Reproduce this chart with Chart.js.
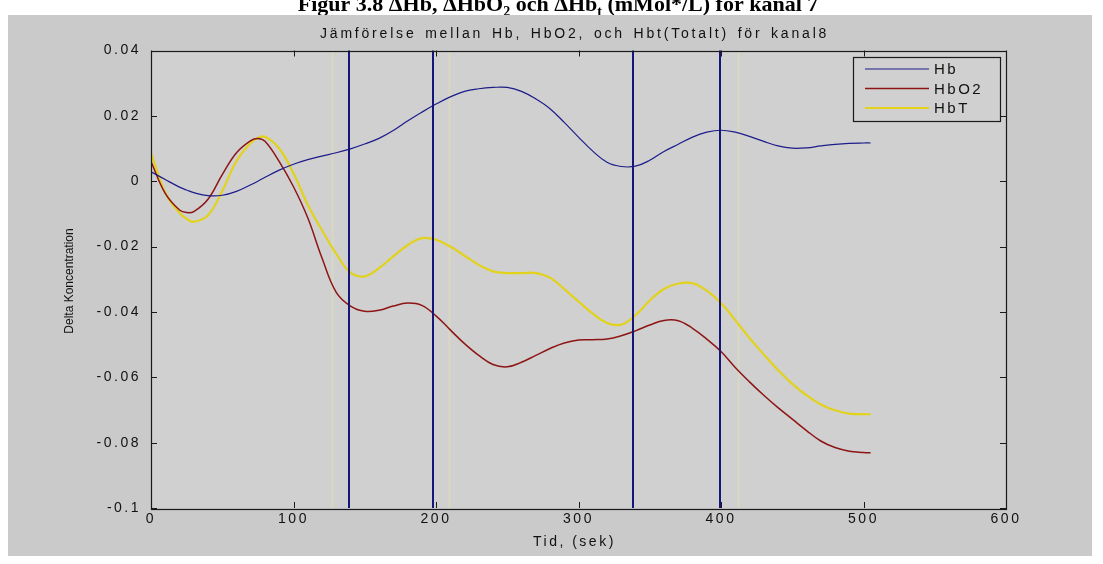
<!DOCTYPE html>
<html>
<head>
<meta charset="utf-8">
<script src="https://cdn.jsdelivr.net/npm/chart.js@4.4.1/dist/chart.umd.min.js"></script>
<style>
  html, body { margin: 0; padding: 0; background: #ffffff; }
  canvas { display: block; }
</style>
</head>
<body>
<canvas id="chart" width="1103" height="564"></canvas>
<script>
// Time axis (seconds)
const timeSec = [0,10,20,25,30,40,50,60,70,75,80,90,100,110,120,130,140,150,160,170,180,190,200,
  210,220,230,240,250,260,270,280,290,300,310,320,330,340,350,360,370,380,390,400,
  410,420,430,440,450,460,470,480,490,500,505];

// Delta concentration per series
const hb = [0.0029,0.0005,-0.0018,-0.0027,-0.0035,-0.0044,-0.0043,-0.0031,-0.0011,0.0000,0.0012,0.0034,0.0052,
  0.0066,0.0077,0.0087,0.0099,0.0114,0.0131,0.0155,0.0184,0.0211,0.0236,
  0.0258,0.0275,0.0283,0.0287,0.0287,0.0275,0.0252,0.0222,0.0180,0.0135,
  0.0092,0.0058,0.0045,0.0046,0.0064,0.0091,0.0113,0.0135,0.0150,0.0156,
  0.0150,0.0137,0.0122,0.0108,0.0101,0.0102,0.0108,0.0113,0.0116,0.0117,0.0117];

const hbo2 = [0.0060,-0.0037,-0.0088,-0.0096,-0.0093,-0.0055,0.0020,0.0087,0.0124,0.0131,0.0122,0.0060,-0.0017,
  -0.0112,-0.0235,-0.0340,-0.0382,-0.0398,-0.0395,-0.0382,-0.0373,-0.0380,-0.0412,
  -0.0455,-0.0497,-0.0533,-0.0561,-0.0568,-0.0554,-0.0533,-0.0512,-0.0495,-0.0486,
  -0.0485,-0.0483,-0.0473,-0.0458,-0.0440,-0.0426,-0.0427,-0.0450,-0.0483,-0.0521,
  -0.0570,-0.0614,-0.0655,-0.0693,-0.0728,-0.0763,-0.0795,-0.0815,-0.0826,-0.0830,-0.0831];

const hbt = [0.0086,-0.0035,-0.0097,-0.0115,-0.0124,-0.0104,-0.0030,0.0062,0.0118,0.0132,0.0136,0.0100,0.0024,
  -0.0072,-0.0150,-0.0222,-0.0280,-0.0291,-0.0266,-0.0230,-0.0196,-0.0174,-0.0179,
  -0.0200,-0.0228,-0.0256,-0.0276,-0.0281,-0.0281,-0.0281,-0.0295,-0.0330,-0.0368,
  -0.0405,-0.0434,-0.0439,-0.0410,-0.0365,-0.0330,-0.0313,-0.0312,-0.0335,-0.0373,
  -0.0425,-0.0480,-0.0530,-0.0578,-0.0620,-0.0655,-0.0683,-0.0701,-0.0711,-0.0713,-0.0713];

// Event markers (seconds) and faint guide lines
const markerTimes = [139, 198, 338, 399];
const faintTimes = [127, 209, 412];

// Axis ticks
const xTicks = [0, 100, 200, 300, 400, 500, 600];
const xTickLabels = ['0', '100', '200', '300', '400', '500', '600'];
const yTicks = [0.04, 0.02, 0, -0.02, -0.04, -0.06, -0.08, -0.1];
const yTickLabels = ['0.04', '0.02', '0', '-0.02', '-0.04', '-0.06', '-0.08', '-0.1'];

const seriesNames = ['Hb', 'HbO2', 'HbT'];
const seriesColors = ['#1c1c8a', '#8e1515', '#e2d21c'];
const seriesWidths = [1.2, 1.5, 2.2];

const titleText = 'Jämförelse mellan Hb, HbO2, och Hbt(Totalt) för kanal8';
const xTitle = 'Tid, (sek)';
const yTitle = 'Delta Koncentration';

const SANS = '"Liberation Sans", Arial, Helvetica, sans-serif';
const SERIF = '"Liberation Serif", "Times New Roman", serif';
const FIG_BG = '#cacaca';
const AX_BG = '#d0d0d0';

function toPoints(values) {
  return timeSec.map((t, i) => ({ x: t, y: values[i] }));
}

function drawCaption(ctx) {
  // Figure caption above the figure window
  const parts = [
    { t: 'Figur 3.8 \u0394Hb, \u0394HbO', sub: false },
    { t: '2', sub: true },
    { t: ' och \u0394Hb', sub: false },
    { t: 't', sub: true },
    { t: ' (mMol*/L) för kanal 7', sub: false }
  ];
  const big = 'bold 22px ' + SERIF;
  const small = 'bold 14px ' + SERIF;
  let total = 0;
  parts.forEach(p => { ctx.font = p.sub ? small : big; p.w = ctx.measureText(p.t).width; total += p.w; });
  let x = 558 - total / 2;
  ctx.fillStyle = '#000';
  ctx.textAlign = 'left';
  ctx.textBaseline = 'alphabetic';
  parts.forEach(p => {
    ctx.font = p.sub ? small : big;
    ctx.fillText(p.t, x, p.sub ? 16 : 11);
    x += p.w;
  });
}

const figurePlugin = {
  id: 'figureFrame',
  beforeDraw(chart) {
    const ctx = chart.ctx;
    const a = chart.chartArea;
    const xs = chart.scales.x;
    ctx.save();
    ctx.letterSpacing = '0px';
    ctx.fillStyle = '#ffffff';
    ctx.fillRect(0, 0, chart.width, chart.height);
    drawCaption(ctx);
    ctx.fillStyle = FIG_BG;
    ctx.fillRect(8, 15, 1084, 541);
    ctx.fillStyle = AX_BG;
    ctx.fillRect(a.left, a.top, a.right - a.left, a.bottom - a.top);
    // faint guide lines
    ctx.strokeStyle = 'rgba(236, 230, 170, 0.35)';
    ctx.lineWidth = 2;
    faintTimes.forEach(t => {
      const px = Math.round(xs.getPixelForValue(t)) + 0.5;
      ctx.beginPath(); ctx.moveTo(px, a.top); ctx.lineTo(px, a.bottom); ctx.stroke();
    });
    ctx.restore();
    // spaced lettering for tick labels
    ctx.letterSpacing = '2.5px';
  },
  afterDatasetsDraw(chart) {
    const ctx = chart.ctx;
    const a = chart.chartArea;
    const xs = chart.scales.x;
    const ys = chart.scales.y;
    ctx.save();
    ctx.letterSpacing = '0px';

    // event marker lines
    ctx.strokeStyle = '#15157a';
    ctx.lineWidth = 2;
    markerTimes.forEach(t => {
      const px = Math.round(xs.getPixelForValue(t));
      ctx.beginPath(); ctx.moveTo(px, a.top); ctx.lineTo(px, a.bottom); ctx.stroke();
    });

    // axes box
    ctx.strokeStyle = '#1a1a1a';
    ctx.lineWidth = 1.2;
    ctx.strokeRect(Math.round(a.left) + 0.5, Math.round(a.top) + 0.5,
      Math.round(a.right - a.left), Math.round(a.bottom - a.top));

    // inward tick marks on all four sides
    const tl = 6;
    ctx.lineWidth = 1;
    ctx.beginPath();
    xTicks.forEach(v => {
      const px = Math.round(xs.getPixelForValue(v)) + 0.5;
      ctx.moveTo(px, a.bottom); ctx.lineTo(px, a.bottom - tl);
      ctx.moveTo(px, a.top); ctx.lineTo(px, a.top + tl);
    });
    yTicks.forEach(v => {
      const py = Math.round(ys.getPixelForValue(v)) + 0.5;
      ctx.moveTo(a.left, py); ctx.lineTo(a.left + tl, py);
      ctx.moveTo(a.right, py); ctx.lineTo(a.right - tl, py);
    });
    ctx.stroke();

    // legend box
    const lx = 853, ly = 57, lw = 147, lh = 64;
    ctx.fillStyle = AX_BG;
    ctx.fillRect(lx, ly, lw, lh);
    ctx.strokeStyle = '#1a1a1a';
    ctx.lineWidth = 1.2;
    ctx.strokeRect(lx + 0.5, ly + 0.5, lw, lh);
    ctx.font = '15px ' + SANS;
    ctx.letterSpacing = '2.5px';
    ctx.textAlign = 'left';
    ctx.textBaseline = 'middle';
    chart.data.datasets.forEach((ds, i) => {
      const ry = 69 + i * 19.5;
      ctx.strokeStyle = ds.borderColor;
      ctx.lineWidth = ds.borderWidth;
      ctx.beginPath(); ctx.moveTo(865, ry); ctx.lineTo(929, ry); ctx.stroke();
      ctx.fillStyle = '#111';
      ctx.fillText(ds.label, 934, ry + 1);
    });

    // axes title
    ctx.font = '14px ' + SANS;
    ctx.letterSpacing = '0px';
    ctx.wordSpacing = '2px';
    const tw = ctx.measureText(titleText).width;
    const spacing = Math.max(0, (509 - tw) / titleText.length);
    ctx.letterSpacing = spacing.toFixed(2) + 'px';
    ctx.fillStyle = '#111';
    ctx.textAlign = 'left';
    ctx.textBaseline = 'alphabetic';
    ctx.fillText(titleText, 320, 38);
    ctx.wordSpacing = '0px';

    // x axis title
    ctx.font = '14px ' + SANS;
    ctx.letterSpacing = '2.5px';
    ctx.textAlign = 'left';
    ctx.fillText(xTitle, 533, 546);

    // y axis title
    ctx.font = '12px ' + SANS;
    ctx.letterSpacing = '0px';
    ctx.translate(70, 281);
    ctx.rotate(-Math.PI / 2);
    ctx.textAlign = 'center';
    ctx.textBaseline = 'middle';
    ctx.fillText(yTitle, 0, 0);
    ctx.restore();
  },
  afterDraw(chart) {
    chart.ctx.letterSpacing = '0px';
  }
};

const canvas = document.getElementById('chart');
new Chart(canvas.getContext('2d'), {
  type: 'line',
  data: {
    datasets: seriesNames.map((name, i) => ({
      label: name,
      data: toPoints([hb, hbo2, hbt][i]),
      borderColor: seriesColors[i],
      backgroundColor: seriesColors[i],
      borderWidth: seriesWidths[i],
      tension: 0.4,
      fill: false
    }))
  },
  options: {
    responsive: false,
    animation: false,
    devicePixelRatio: 1,
    layout: { padding: { left: 0, top: 50.5, right: 97, bottom: 0 } },
    elements: {
      point: { radius: 0, hoverRadius: 0 }
    },
    plugins: {
      legend: { display: false },
      tooltip: { enabled: false },
      title: { display: false }
    },
    events: [],
    scales: {
      x: {
        type: 'linear',
        min: 0,
        max: 600,
        afterBuildTicks: s => { s.ticks = xTicks.map(v => ({ value: v })); },
        afterFit: s => { s.height = 56; },
        grid: { display: false, drawTicks: false },
        border: { display: false },
        ticks: {
          autoSkip: false,
          maxRotation: 0,
          padding: 3,
          color: '#111',
          font: { family: SANS, size: 14 },
          callback: (v, i) => xTickLabels[i]
        }
      },
      y: {
        type: 'linear',
        min: -0.1,
        max: 0.04,
        afterBuildTicks: s => { s.ticks = yTicks.map(v => ({ value: v })); },
        afterFit: s => { s.width = 151; },
        grid: { display: false, drawTicks: false },
        border: { display: false },
        ticks: {
          autoSkip: false,
          padding: 10,
          color: '#111',
          font: { family: SANS, size: 14 },
          callback: (v, i) => yTickLabels[i]
        }
      }
    }
  },
  plugins: [figurePlugin]
});
</script>
</body>
</html>
